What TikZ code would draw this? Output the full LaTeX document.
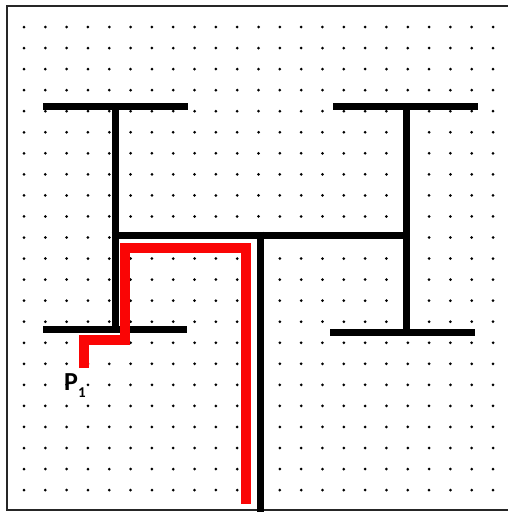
\documentclass[tikz,border=0pt]{standalone}
\usepackage{fontspec}
\setmainfont{Carlito}
\usepackage{tikz}
\usetikzlibrary{positioning,calc}
\definecolor{hblack}{RGB}{0,0,0}
\definecolor{pathred}{RGB}{250,5,5}

\begin{document}
\begin{tikzpicture}[x=1pt, y=-1pt]
    \tikzset{gridbox/.style={draw=black!85, line width=1.6pt}}
    \tikzset{hbar/.style={draw=hblack, line width=7pt, line cap=butt}}
    \tikzset{redpath/.style={draw=pathred, line width=9.5pt, line cap=butt, line join=miter}}
    \useasboundingbox (0,0) rectangle (508,512);

    % Frame and dot grid
    \draw[gridbox] (7,6) rectangle (512,510);
    \foreach \i in {0,...,22}{
      \foreach \j in {0,...,22}{
        \fill (24+\i*21.32, 27+\j*21.05) circle (1.5pt);
      }
    }

    % Left H
    \coordinate (lt1) at (43,106);   \coordinate (lt2) at (188,106);
    \coordinate (lb1) at (43,329);   \coordinate (lb2) at (187,329);
    \coordinate (ltop) at (115,106); \coordinate (lbot) at (115,329);
    % Right H
    \coordinate (rt1) at (333,106);  \coordinate (rt2) at (478,106);
    \coordinate (rb1) at (330,332);  \coordinate (rb2) at (475,332);
    \coordinate (rtop) at (406,106); \coordinate (rbot) at (406,332);
    % Middle bar and stem
    \coordinate (ml) at (111.5,235); \coordinate (mr) at (409.5,235);
    \coordinate (stop) at (260,231.5); \coordinate (sbot) at (260,515);

    \draw[hbar] (lt1) -- (lt2);
    \draw[hbar] (lb1) -- (lb2);
    \draw[hbar] (ltop) -- (lbot);
    \draw[hbar] (rt1) -- (rt2);
    \draw[hbar] (rb1) -- (rb2);
    \draw[hbar] (rtop) -- (rbot);
    \draw[hbar] (ml) -- (mr);
    \draw[hbar] (stop) -- (sbot);

    % Red path from P1
    \coordinate (p0) at (84,368);
    \coordinate (p1) at (84,340);
    \coordinate (p2) at (125,340);
    \coordinate (p3) at (125,248);
    \coordinate (p4) at (246,248);
    \coordinate (p5) at (246,504);
    \draw[redpath] (p0) -- (p1) -- (p2) -- (p3) -- (p4) -- (p5);

    % Label
    \node[anchor=base west, inner sep=0pt, font=\fontsize{26}{26}\selectfont\bfseries] (plabel) at (64,390)
      {P\raisebox{-7pt}{\fontsize{15}{15}\selectfont 1}};
\end{tikzpicture}
\end{document}
